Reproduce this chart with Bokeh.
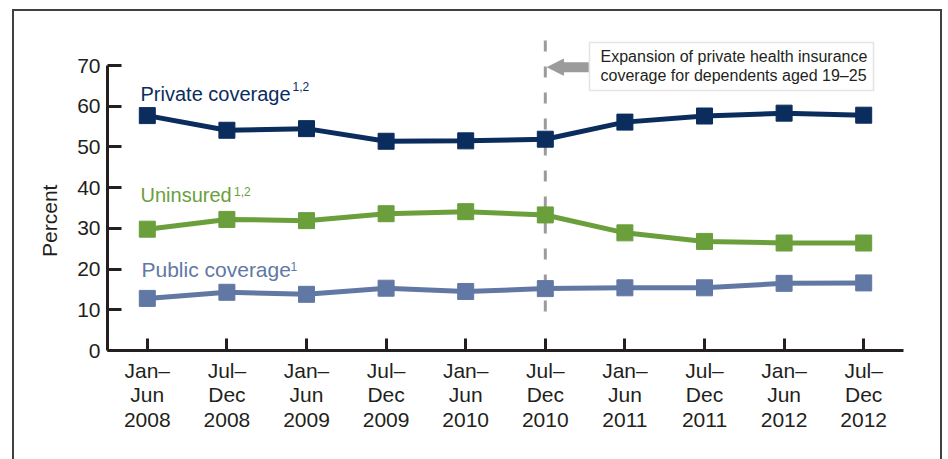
from bokeh.plotting import figure
from bokeh.models import (FixedTicker, Label, BoxAnnotation, Arrow, NormalHead,
                          Range1d, ColumnDataSource)
from bokeh.embed import file_html
from bokeh.resources import INLINE

# ---- data ----
periods = ["Jan–\nJun\n2008", "Jul–\nDec\n2008", "Jan–\nJun\n2009", "Jul–\nDec\n2009",
           "Jan–\nJun\n2010", "Jul–\nDec\n2010", "Jan–\nJun\n2011", "Jul–\nDec\n2011",
           "Jan–\nJun\n2012", "Jul–\nDec\n2012"]
private_coverage = [57.7, 54.1, 54.5, 51.4, 51.5, 51.9, 56.1, 57.6, 58.3, 57.8]
uninsured = [29.8, 32.2, 31.9, 33.6, 34.1, 33.3, 28.9, 26.8, 26.4, 26.4]
public_coverage = [12.8, 14.3, 13.8, 15.3, 14.5, 15.2, 15.4, 15.4, 16.5, 16.6]
y_ticks = [0, 10, 20, 30, 40, 50, 60, 70]
policy_period = 5  # Jul–Dec 2010

NAVY = "#0b2d5e"
GREEN = "#6a9f3c"
BLUE = "#6278a4"
TXT = "#231f20"
GRAY = "#9b9b9b"
FRAME = "#404040"
FONT = "Liberation Sans"

idx = list(range(len(periods)))

p = figure(width=948, height=459, output_backend="svg", toolbar_location=None,
           x_range=Range1d(-0.5, len(periods) - 0.5), y_range=Range1d(0, 76.64),
           min_border_left=107, min_border_right=45, min_border_top=38,
           min_border_bottom=109)
p.grid.visible = False
p.outline_line_color = None
p.background_fill_color = "white"
p.border_fill_color = None
g = f"linear-gradient({FRAME},{FRAME})"
p.styles = {
    "background-color": "white",
    "background-image": f"{g}, {g}, {g}",
    "background-position": "12px 9px, 12px 9px, 940px 9px",
    "background-size": "2px 470px, 930px 2px, 2px 470px",
    "background-repeat": "no-repeat",
}

for ax in (p.xaxis[0], p.yaxis[0]):
    ax.axis_line_width = 3
    ax.axis_line_color = TXT
    ax.major_tick_line_width = 3
    ax.major_tick_line_color = TXT
    ax.major_tick_out = 0
    ax.minor_tick_line_color = None
    ax.major_label_text_font = FONT
    ax.major_label_text_color = TXT

p.yaxis.ticker = FixedTicker(ticks=y_ticks)
p.yaxis.bounds = (0, 70)
p.yaxis.major_tick_in = 14
p.yaxis.major_label_text_font_size = "21px"
p.yaxis.major_label_standoff = 7
p.yaxis.axis_label = "Percent" + "\u00a0" * 9
p.yaxis.axis_label_text_font = FONT
p.yaxis.axis_label_text_font_size = "21px"
p.yaxis.axis_label_text_font_style = "normal"
p.yaxis.axis_label_text_color = TXT
p.yaxis.axis_label_standoff = 13

p.xaxis.ticker = FixedTicker(ticks=idx)
p.xaxis.major_label_overrides = {i: lab for i, lab in zip(idx, periods)}
p.xaxis.major_tick_in = 12
p.xaxis.major_label_text_font_size = "21px"
p.xaxis.major_label_text_line_height = 1.07
p.xaxis.major_label_standoff = 8

# dashed policy line
p.line([policy_period, policy_period], [76.15, 6.14], line_color=GRAY, line_width=3,
       line_dash="11 15")

# series
for vals, col in ((private_coverage, NAVY), (uninsured, GREEN), (public_coverage, BLUE)):
    src = ColumnDataSource(dict(x=idx, y=vals))
    p.line("x", "y", source=src, line_color=col, line_width=5)
    p.scatter("x", "y", source=src, marker="square", size=16, fill_color=col,
              line_color=col)

# series labels
def lab(x, y, text, color, size):
    p.add_layout(Label(x=x, y=y, text=text, text_color=color, text_font=FONT,
                       text_font_size=size, text_baseline="alphabetic"))

lab(-0.085, 63.1, "Private coverage", NAVY, "20px")
lab(1.824, 64.8, "1,2", NAVY, "12px")
lab(-0.085, 38.1, "Uninsured", GREEN, "20px")
lab(1.089, 39.0, "1,2", GREEN, "12px")
lab(-0.073, 19.8, "Public coverage", BLUE, "21px")
lab(1.80, 20.6, "1", BLUE, "12px")

# annotation box and arrow
p.add_layout(BoxAnnotation(left=5.555, right=9.123, top=75.66, bottom=63.87,
                           fill_color="white", fill_alpha=1,
                           line_color="#a6a6a6", line_width=1.5))
p.add_layout(Label(x=5.694, y=72.3, text="Expansion of private health insurance",
                   text_font=FONT, text_font_size="16px", text_color=TXT,
                   text_baseline="alphabetic"))
p.add_layout(Label(x=5.694, y=67.6, text="coverage for dependents aged 19–25",
                   text_font=FONT, text_font_size="16px", text_color=TXT,
                   text_baseline="alphabetic"))
p.add_layout(Arrow(x_start=5.545, y_start=69.6, x_end=5.028, y_end=69.6,
                   line_color=GRAY, line_width=10,
                   end=NormalHead(size=16, fill_color=GRAY, line_color=GRAY,
                                  line_width=1)))

open("out.html", "w").write(file_html(p, INLINE))
